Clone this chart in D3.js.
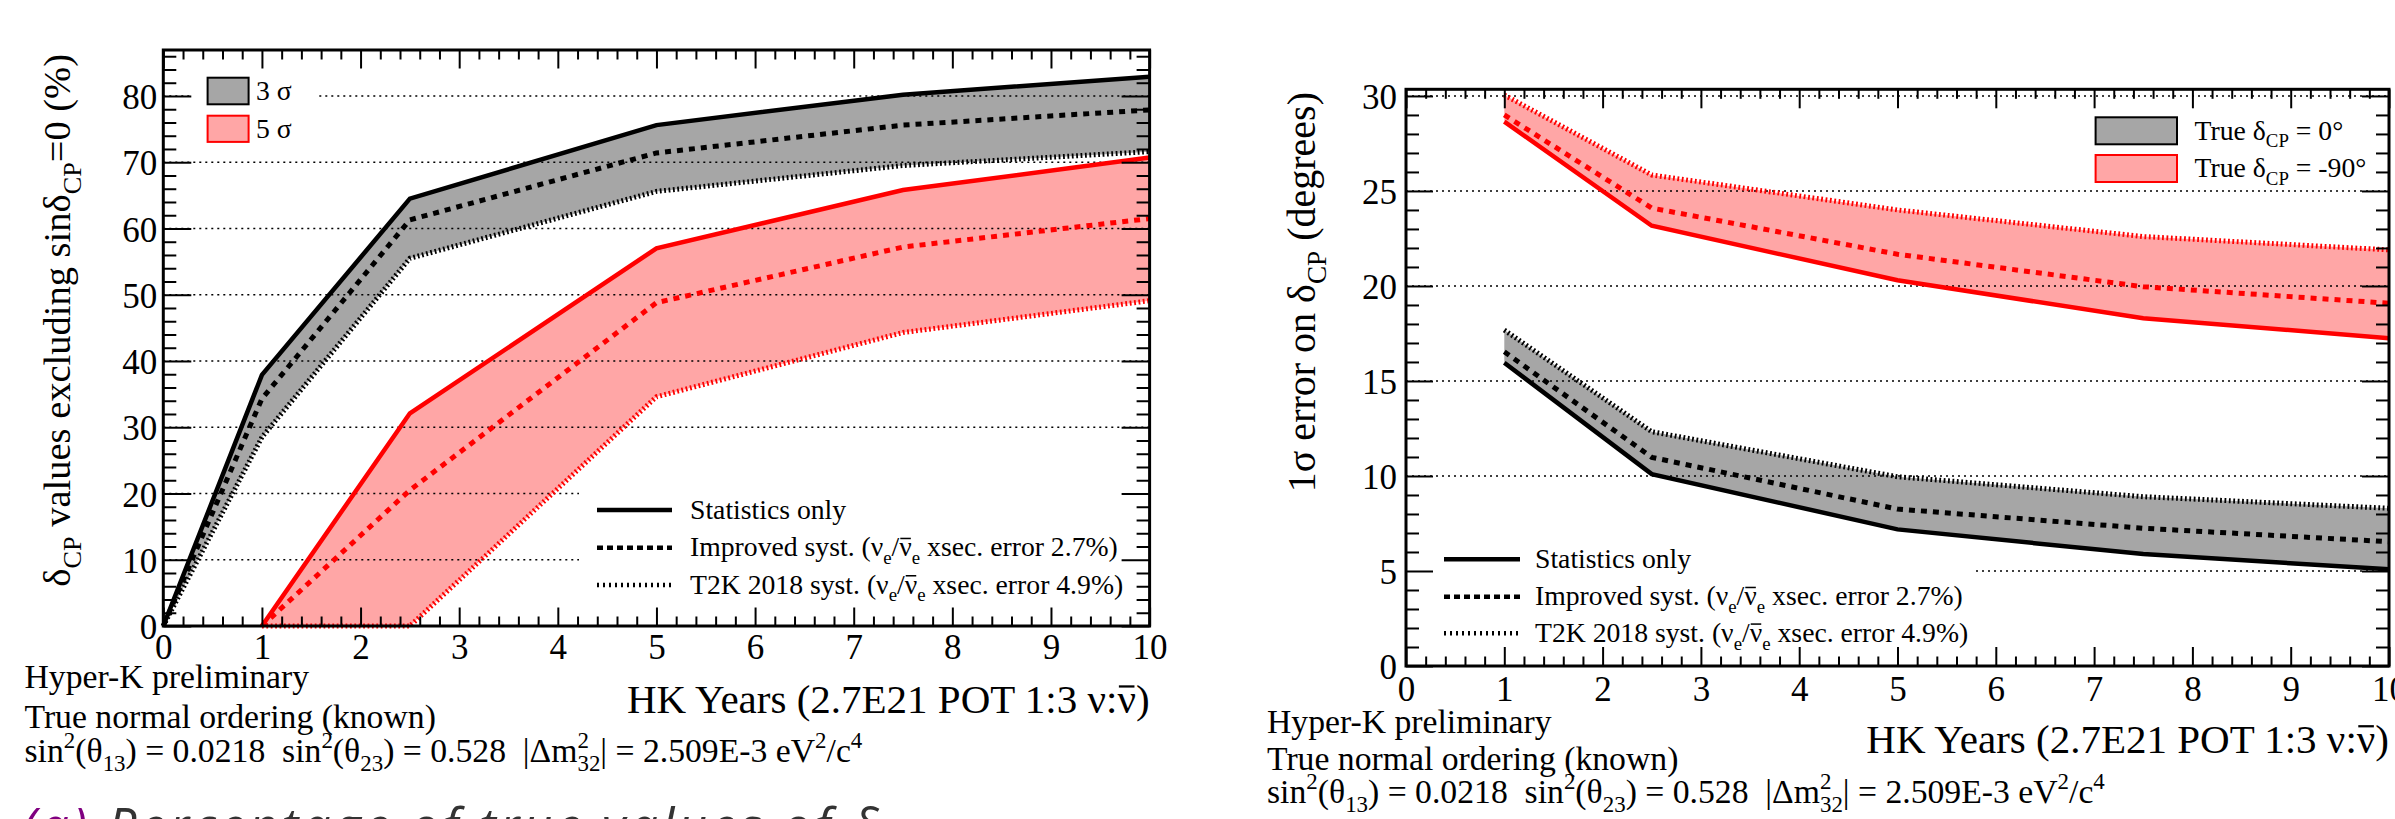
<!DOCTYPE html>
<html><head><meta charset="utf-8">
<script src="https://cdn.jsdelivr.net/npm/d3@7"></script>
<style>
html,body{margin:0;padding:0;background:#fff;overflow:hidden}
svg{display:block}
text{font-family:"Liberation Serif","Times New Roman",serif;white-space:pre}
</style></head><body>
<svg id="c" width="2395" height="819"></svg>
<script>
// ---------------- DATA ----------------
// Left panel: % of dCP values excluding sin dCP = 0
const yearsSig3 = [0, 1, 2.5, 5, 7.5, 10];
const sig3Stat  = [0, 37.9, 64.5, 75.6, 80.2, 82.9];
const sig3Impr  = [0, 34.3, 61.3, 71.4, 75.6, 77.9];
const sig3T2K   = [0, 28.5, 55.5, 65.6, 69.5, 71.6];
const yearsSig5 = [1, 2.5, 5, 7.5, 10];
const sig5Stat  = [0, 32.1, 57.0, 65.8, 70.7];
const sig5Impr  = [0, 20.5, 48.8, 57.2, 61.5];
const sig5T2K   = [0, 0, 34.6, 44.3, 49.1];
// Right panel: 1 sigma error on dCP (degrees)
const yearsErr  = [1, 2.5, 5, 7.5, 10];
const d0Stat    = [15.96, 10.1, 7.19, 5.89, 5.09];
const d0Impr    = [16.54, 10.98, 8.26, 7.25, 6.54];
const d0T2K     = [17.68, 12.33, 9.96, 8.91, 8.3];
const d90Stat   = [28.65, 23.17, 20.3, 18.3, 17.25];
const d90Impr   = [29.0, 24.1, 21.67, 19.96, 19.09];
const d90T2K    = [30.05, 25.84, 24.0, 22.6, 21.9];
// axes
const xMajorTicks = [0,1,2,3,4,5,6,7,8,9,10];
const yMajorLeft  = [0,10,20,30,40,50,60,70,80];
const yMajorRight = [0,5,10,15,20,25,30];
const legendSigma = ["3 σ", "5 σ"];
const legendTrue  = ["0°", "-90°"];

// ---------------- HELPERS ----------------
const svg = d3.select("#c");
const GRAY = "#a6a6a6", PINK = "#ffa6a6", RED = "#ff0000";
const STY = {
  solid:  {w: 4.5, dash: null},
  dashed: {w: 5,   dash: "6,6"},
  dotted: {w: 5,   dash: "1.8,2.6"}
};

function rich(sel, parts, fs) {
  let off = 0;
  const bars = [];
  parts.forEach(p => {
    const arr = typeof p === "string" ? [p, "n"] : p;
    const str = arr[0], t = arr[1], dx = arr[2];
    let target = 0, size = fs;
    if (t === "sub") { target = 0.28 * fs; size = 0.68 * fs; }
    if (t === "sup") { target = -0.40 * fs; size = 0.68 * fs; }
    const ts = sel.append("tspan").attr("font-size", size).attr("dy", target - off).text(str);
    if (t === "bar") bars.push(ts);
    if (dx) ts.attr("dx", dx);
    off = target;
  });
  // overline bars (anti-particle) drawn just above the glyph
  const base = +sel.attr("y");
  const parent = d3.select(sel.node().parentNode);
  bars.forEach(ts => {
    const bb = ts.node().getBBox();
    parent.append("line")
      .attr("x1", bb.x + bb.width * 0.08).attr("x2", bb.x + bb.width * 0.92)
      .attr("y1", base - 0.64 * fs).attr("y2", base - 0.64 * fs)
      .attr("stroke", "#000").attr("stroke-width", Math.max(1.5, fs * 0.055));
  });
  return sel;
}

function makePanel(c) {
  const g = svg.append("g");
  const x = d3.scaleLinear().domain([0, 10]).range([c.left, c.right]);
  const y = d3.scaleLinear().domain([0, c.ymax]).range([c.bottom, c.top]);
  return Object.assign({g, x, y}, c);
}

function band(P, xs, a, b, fill) {
  const pts = xs.map((d, i) => [d, a[i]]).concat(xs.map((d, i) => [d, b[i]]).reverse());
  P.g.append("path")
    .attr("d", d3.line().x(d => P.x(d[0])).y(d => P.y(d[1]))(pts) + "Z")
    .attr("fill", fill).attr("stroke", "none");
}

function curve(P, xs, ys, color, style) {
  const s = STY[style];
  P.g.append("path")
    .attr("d", d3.line().x((d, i) => P.x(xs[i])).y(d => P.y(d))(ys))
    .attr("fill", "none").attr("stroke", color).attr("stroke-width", s.w)
    .attr("stroke-dasharray", s.dash);
}

function grid(P, vals) {
  P.g.append("g").selectAll("line").data(vals).join("line")
    .attr("x1", P.left).attr("x2", P.right)
    .attr("y1", d => P.y(d)).attr("y2", d => P.y(d))
    .attr("stroke", "#000").attr("stroke-width", 1.4).attr("stroke-dasharray", "2,4");
}

function axes(P, o) {
  const g = P.g;
  const xMinor = d3.range(0, 51).filter(i => i % 5 !== 0).map(i => i / 5);
  const yMinor = d3.range(0, Math.floor(P.ymax / o.yMinStep) + 1).map(i => i * o.yMinStep)
                   .filter(v => Math.abs(v / o.yMajStep - Math.round(v / o.yMajStep)) > 1e-6);
  const yMajor = o.yMajor.concat([]);
  const style = s => s.call(a => a.select(".domain").remove())
      .call(a => a.selectAll(".tick line").attr("stroke", "#000").attr("stroke-width", 2));
  // bottom
  g.append("g").attr("transform", `translate(0,${P.bottom})`)
    .call(d3.axisBottom(P.x).tickValues(xMajorTicks).tickSizeInner(-o.xMaj).tickSizeOuter(0)
      .tickPadding(o.xPad).tickFormat(d3.format("d")))
    .call(style)
    .call(a => a.selectAll("text").attr("font-family", '"Liberation Serif",serif')
      .attr("font-size", o.fs).attr("fill", "#000"));
  g.append("g").attr("transform", `translate(0,${P.bottom})`)
    .call(d3.axisBottom(P.x).tickValues(xMinor).tickSizeInner(-o.xMin).tickSizeOuter(0).tickFormat(""))
    .call(style);
  // top
  g.append("g").attr("transform", `translate(0,${P.top})`)
    .call(d3.axisTop(P.x).tickValues(xMajorTicks).tickSizeInner(-o.xMaj).tickSizeOuter(0).tickFormat(""))
    .call(style);
  g.append("g").attr("transform", `translate(0,${P.top})`)
    .call(d3.axisTop(P.x).tickValues(xMinor).tickSizeInner(-o.xMin).tickSizeOuter(0).tickFormat(""))
    .call(style);
  // left
  g.append("g").attr("transform", `translate(${P.left},0)`)
    .call(d3.axisLeft(P.y).tickValues(yMajor).tickSizeInner(-o.yMaj).tickSizeOuter(0)
      .tickPadding(o.yPad).tickFormat(d3.format("d")))
    .call(style)
    .call(a => a.selectAll("text").attr("font-family", '"Liberation Serif",serif')
      .attr("font-size", o.fs).attr("fill", "#000").attr("dy", "0.36em"));
  g.append("g").attr("transform", `translate(${P.left},0)`)
    .call(d3.axisLeft(P.y).tickValues(yMinor).tickSizeInner(-o.yMin).tickSizeOuter(0).tickFormat(""))
    .call(style);
  // right
  g.append("g").attr("transform", `translate(${P.right},0)`)
    .call(d3.axisRight(P.y).tickValues(yMajor).tickSizeInner(-o.yMaj).tickSizeOuter(0).tickFormat(""))
    .call(style);
  g.append("g").attr("transform", `translate(${P.right},0)`)
    .call(d3.axisRight(P.y).tickValues(yMinor).tickSizeInner(-o.yMin).tickSizeOuter(0).tickFormat(""))
    .call(style);
  // frame
  g.append("rect").attr("x", P.left).attr("y", P.top)
    .attr("width", P.right - P.left).attr("height", P.bottom - P.top)
    .attr("fill", "none").attr("stroke", "#000").attr("stroke-width", 3);
}

function lineLegend(g, x0, x1, tx, ys, fs) {
  const labels = [
    ["Statistics only"],
    ["Improved syst. (ν", ["e", "sub"], "/", ["ν", "bar"], ["e", "sub"], " xsec. error 2.7%)"],
    ["T2K 2018 syst. (ν", ["e", "sub"], "/", ["ν", "bar"], ["e", "sub"], " xsec. error 4.9%)"]
  ];
  ys.forEach((yy, i) => {
    g.append("line").attr("x1", x0).attr("x2", x1).attr("y1", yy).attr("y2", yy)
      .attr("stroke", "#000").attr("stroke-width", 4.5)
      .attr("stroke-dasharray", i === 1 ? "6,4" : (i === 2 ? "2,4" : null));
    rich(g.append("text").attr("x", tx).attr("y", yy + 8.5).attr("fill", "#000"), labels[i], fs);
  });
}

function bottomNotes(g, x, y1, y2, y3, fs) {
  g.append("text").attr("x", x).attr("y", y1).attr("font-size", fs).text("Hyper-K preliminary");
  g.append("text").attr("x", x).attr("y", y2).attr("font-size", fs).text("True normal ordering (known)");
  const sfs = fs * 0.68;
  rich(g.append("text").attr("x", x).attr("y", y3), [
    "sin", ["2", "sup"], "(θ", ["13", "sub"], ") = 0.0218  sin", ["2", "sup"], "(θ", ["23", "sub"],
    ") = 0.528  |Δm", ["2", "sup"], ["32", "sub", -sfs * 0.5], "| = 2.509E-3 eV", ["2", "sup"], "/c", ["4", "sup"]
  ], fs);
}

const xTitle = ["HK Years (2.7E21 POT 1:3 ν:", ["ν", "bar"], ")"];

// ---------------- LEFT PANEL ----------------
const L = makePanel({left: 163.3, right: 1149.6, top: 50, bottom: 626, ymax: 86.94});
band(L, yearsSig3, sig3Stat, sig3T2K, GRAY);
band(L, yearsSig5, sig5Stat, sig5T2K, PINK);
grid(L, yMajorLeft.filter(v => v > 0));
curve(L, yearsSig3, sig3T2K, "#000", "dotted");
curve(L, yearsSig3, sig3Impr, "#000", "dashed");
curve(L, yearsSig3, sig3Stat, "#000", "solid");
curve(L, yearsSig5, sig5T2K, RED, "dotted");
curve(L, yearsSig5, sig5Impr, RED, "dashed");
curve(L, yearsSig5, sig5Stat, RED, "solid");
// legends (white boxes)
L.g.append("rect").attr("x", 192).attr("y", 62).attr("width", 124).attr("height", 94).attr("fill", "#fff");
L.g.append("rect").attr("x", 579).attr("y", 478).attr("width", 570).attr("height", 148).attr("fill", "#fff");
L.g.append("rect").attr("x", 207.6).attr("y", 77.7).attr("width", 41).attr("height", 26.6)
  .attr("fill", GRAY).attr("stroke", "#000").attr("stroke-width", 2);
L.g.append("rect").attr("x", 207.6).attr("y", 115.7).attr("width", 41).attr("height", 26.2)
  .attr("fill", PINK).attr("stroke", RED).attr("stroke-width", 2);
L.g.append("text").attr("x", 256).attr("y", 100).attr("font-size", 27.7).text(legendSigma[0]);
L.g.append("text").attr("x", 256).attr("y", 137.5).attr("font-size", 27.7).text(legendSigma[1]);
lineLegend(L.g, 597, 672, 690, [510, 547.7, 585], 27.7);
axes(L, {xMaj: 18.5, xMin: 9.5, yMaj: 28, yMin: 13, xPad: 8, yPad: 6, fs: 35,
         yMajor: yMajorLeft, yMajStep: 10, yMinStep: 2});
// titles
rich(L.g.append("text").attr("transform", "translate(70,54) rotate(-90)").attr("text-anchor", "end"),
  ["δ", ["CP", "sub"], " values excluding sinδ", ["CP", "sub"], "=0 (%)"], 38.5);
rich(L.g.append("text").attr("x", 1149.6).attr("y", 712.7).attr("text-anchor", "end"), xTitle, 41);
bottomNotes(L.g, 24.5, 688.3, 728.3, 761.7, 33.7);

// ---------------- RIGHT PANEL ----------------
const R = makePanel({left: 1406, right: 2389, top: 89.3, bottom: 666, ymax: 30.35});
band(R, yearsErr, d90Stat, d90T2K, PINK);
band(R, yearsErr, d0Stat, d0T2K, GRAY);
grid(R, yMajorRight.filter(v => v > 0));
curve(R, yearsErr, d90T2K, RED, "dotted");
curve(R, yearsErr, d90Impr, RED, "dashed");
curve(R, yearsErr, d90Stat, RED, "solid");
curve(R, yearsErr, d0T2K, "#000", "dotted");
curve(R, yearsErr, d0Impr, "#000", "dashed");
curve(R, yearsErr, d0Stat, "#000", "solid");
R.g.append("rect").attr("x", 1406).attr("y", 540).attr("width", 566).attr("height", 126).attr("fill", "#fff");
R.g.append("rect").attr("x", 2095.6).attr("y", 117.3).attr("width", 81.4).attr("height", 27)
  .attr("fill", GRAY).attr("stroke", "#000").attr("stroke-width", 2);
R.g.append("rect").attr("x", 2095.6).attr("y", 155).attr("width", 81.4).attr("height", 27)
  .attr("fill", PINK).attr("stroke", RED).attr("stroke-width", 2);
rich(R.g.append("text").attr("x", 2194.6).attr("y", 139.5), ["True δ", ["CP", "sub"], " = " + legendTrue[0]], 27.7);
rich(R.g.append("text").attr("x", 2194.6).attr("y", 177), ["True δ", ["CP", "sub"], " = " + legendTrue[1]], 27.7);
lineLegend(R.g, 1444, 1520, 1535, [559.3, 596.7, 633.3], 27.7);
axes(R, {xMaj: 19, xMin: 9.5, yMaj: 27, yMin: 13, xPad: 10, yPad: 9, fs: 35,
         yMajor: yMajorRight, yMajStep: 5, yMinStep: 1});
rich(R.g.append("text").attr("transform", "translate(1315,92) rotate(-90)").attr("text-anchor", "end"),
  ["1σ error on δ", ["CP", "sub"], " (degrees)"], 40);
rich(R.g.append("text").attr("x", 2389).attr("y", 752.5).attr("text-anchor", "end"), xTitle, 41);
bottomNotes(R.g, 1267, 733, 770, 802.7, 33.7);

// ---------------- CAPTION (cut off at bottom) ----------------
const cap = svg.append("text").attr("x", 22).attr("y", 845)
  .style("font-family", '"Open Sans",sans-serif').style("font-style", "italic")
  .attr("font-size", 51).attr("letter-spacing", 3.6);
cap.append("tspan").attr("fill", "#800080").text("(a)");
cap.append("tspan").attr("fill", "#333").text(" Percentage of true values of δ");
</script>
</body></html>
